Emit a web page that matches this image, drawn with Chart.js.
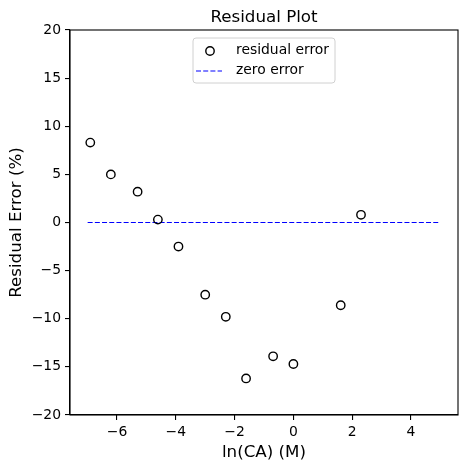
<!DOCTYPE html>
<html>
<head>
<meta charset="utf-8">
<script src="https://cdn.jsdelivr.net/npm/chart.js@4.4.0/dist/chart.umd.min.js"></script>
<style>
  html, body { margin: 0; padding: 0; background: #fff; }
  #wrap { width: 467px; height: 469px; }
</style>
</head>
<body>
<div id="wrap"><canvas id="residual-chart"></canvas></div>
<script>
// ln of the concentrations
const lnCA = [-6.91, -6.21, -5.30, -4.61, -3.91, -3.00, -2.30, -1.61, -0.69, 0, 1.61, 2.30];
// residual error (%)
const residualError = [8.3, 5.0, 3.2, 0.3, -2.5, -7.5, -9.8, -16.2, -13.9, -14.7, -8.6, 0.8];
// zero line endpoints
const zeroX = [-7, 5];
const zeroY = [0, 0];
const xTicks = [-6, -4, -2, 0, 2, 4];
const yTicks = [-20, -15, -10, -5, 0, 5, 10, 15, 20];
const chartTitle = "Residual Plot";

const FONT = "'DejaVu Sans', sans-serif";

// box around the plot, title centred over the axes, legend inside the axes (matplotlib style)
const framePlugin = {
    id: "frame",
    afterDraw: function (chart) {
        const ctx = chart.ctx;
        const a = chart.chartArea;
        ctx.save();
        ctx.strokeStyle = "#000";
        ctx.lineWidth = 1.1;
        ctx.strokeRect(a.left, a.top, a.right - a.left, a.bottom - a.top);

        // title
        ctx.font = "16.7px " + FONT;
        ctx.fillStyle = "#000";
        ctx.textAlign = "center";
        ctx.textBaseline = "alphabetic";
        ctx.fillText(chartTitle, (a.left + a.right) / 2, 22);

        // legend
        const bx = 193, by = 38, bw = 142, bh = 45;
        ctx.fillStyle = "rgba(255,255,255,0.8)";
        ctx.strokeStyle = "#d0d0d0";
        ctx.lineWidth = 1;
        ctx.beginPath();
        ctx.roundRect(bx, by, bw, bh, 3);
        ctx.fill();
        ctx.stroke();

        ctx.font = "13.9px " + FONT;
        ctx.fillStyle = "#000";
        ctx.textBaseline = "middle";
        ctx.textAlign = "left";

        const ds = chart.data.datasets;
        // entry 1: open circle
        ctx.beginPath();
        ctx.arc(210, 51, 4.2, 0, Math.PI * 2);
        ctx.strokeStyle = "#000";
        ctx.lineWidth = 1.4;
        ctx.stroke();
        ctx.fillText(ds[0].label, 236, 50);
        // entry 2: dashed line
        ctx.beginPath();
        ctx.setLineDash([5, 2.2]);
        ctx.strokeStyle = "blue";
        ctx.lineWidth = 1.2;
        ctx.moveTo(196, 71);
        ctx.lineTo(222, 71);
        ctx.stroke();
        ctx.setLineDash([]);
        ctx.fillText(ds[1].label, 236, 70);
        ctx.restore();
    }
};

new Chart(document.getElementById("residual-chart"), {
    type: "scatter",
    data: {
        datasets: [
            {
                label: "residual error",
                data: lnCA.map((x, i) => ({ x: x, y: residualError[i] })),
                pointRadius: 4.2,
                pointBorderWidth: 1.4,
                pointBorderColor: "#000",
                pointBackgroundColor: "rgba(0,0,0,0)",
                pointHoverRadius: 4.2,
            },
            {
                type: "line",
                label: "zero error",
                data: zeroX.map((x, i) => ({ x: x, y: zeroY[i] })),
                borderColor: "blue",
                borderWidth: 1.2,
                borderDash: [5, 2.2],
                pointRadius: 0,
                fill: false,
            },
        ],
    },
    options: {
        responsive: true,
        maintainAspectRatio: false,
        animation: false,
        devicePixelRatio: 1,
        layout: {
            padding: { left: 0, right: 9, top: 30, bottom: 0 },
        },
        plugins: {
            legend: { display: false },
            tooltip: { enabled: false },
            title: { display: false },
        },
        scales: {
            x: {
                type: "linear",
                min: -7.6,
                max: 5.6,
                afterFit: function (axis) { axis.height = 54; },
                afterBuildTicks: function (axis) {
                    axis.ticks = xTicks.map(v => ({ value: v }));
                },
                border: { display: true, color: "#000", width: 1.1 },
                grid: { drawOnChartArea: false, drawTicks: true, tickLength: 5, color: "#000", lineWidth: 1.1 },
                ticks: {
                    color: "#000",
                    font: { family: FONT, size: 13.9 },
                    padding: 4,
                    maxRotation: 0,
                    callback: function (v) { return String(v).replace("-", "\u2212"); },
                },
                title: {
                    display: true,
                    text: "ln(CA) (M)",
                    color: "#000",
                    font: { family: FONT, size: 16.7 },
                    padding: { top: 0, bottom: 6 },
                },
            },
            y: {
                type: "linear",
                min: -20,
                max: 20,
                afterFit: function (axis) { axis.width = 70; },
                afterBuildTicks: function (axis) {
                    axis.ticks = yTicks.map(v => ({ value: v }));
                },
                border: { display: true, color: "#000", width: 1.1 },
                grid: { drawOnChartArea: false, drawTicks: true, tickLength: 5, color: "#000", lineWidth: 1.1 },
                ticks: {
                    color: "#000",
                    font: { family: FONT, size: 13.9 },
                    padding: 4,
                    callback: function (v) { return String(v).replace("-", "\u2212"); },
                },
                title: {
                    display: true,
                    text: "Residual Error (%)",
                    color: "#000",
                    font: { family: FONT, size: 16.7 },
                    padding: { top: 7, bottom: 0 },
                },
            },
        },
    },
    plugins: [framePlugin],
});
</script>
</body>
</html>
